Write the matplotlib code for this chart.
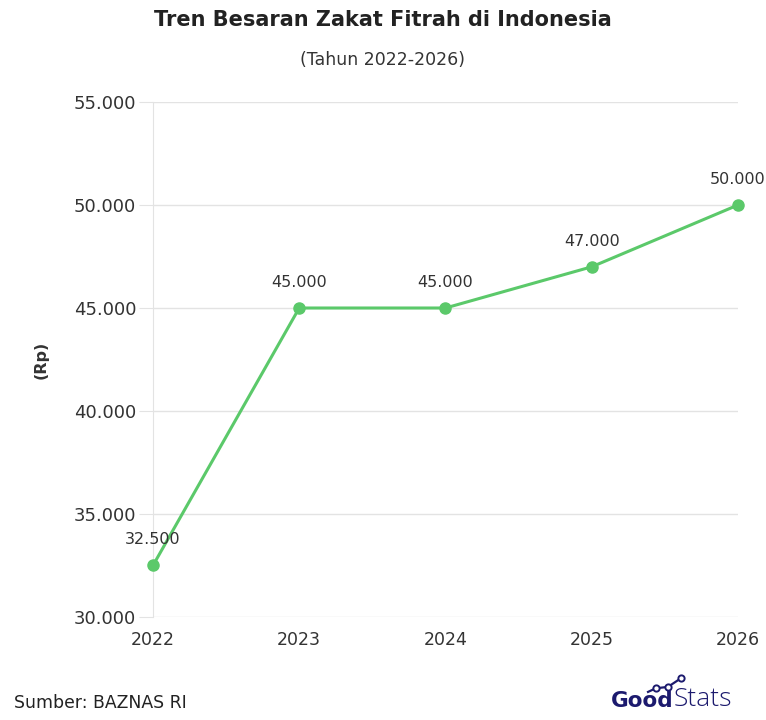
import matplotlib.pyplot as plt
from matplotlib.ticker import FuncFormatter

plt.rcParams['font.family'] = ['DejaVu Sans']

years = [2022, 2023, 2024, 2025, 2026]
zakat = [32500, 45000, 45000, 47000, 50000]
yticks = [30000, 35000, 40000, 45000, 50000, 55000]

def dot_fmt(v, pos=None):
    return f"{int(v):,}".replace(",", ".")

fig = plt.figure(figsize=(7.66, 7.2), dpi=100)
ax = fig.add_axes([0.1997, 0.1431, 0.7637, 0.7152])

green = '#5bc96a'
ax.plot(years, zakat, color=green, lw=2.2, marker='o', ms=8, zorder=3, clip_on=False)
for x, y in zip(years, zakat):
    ax.annotate(dot_fmt(y), (x, y), xytext=(0, 13), textcoords='offset points',
                ha='center', va='bottom', fontsize=11.5, color='#333333',
                annotation_clip=False, zorder=4)

ax.set_xlim(2022, 2026)
ax.set_ylim(30000, 55000)
ax.set_xticks(years)
ax.set_yticks(yticks)
ax.yaxis.set_major_formatter(FuncFormatter(dot_fmt))
ax.grid(axis='y', color='#e3e3e3', lw=1)
ax.tick_params(axis='y', length=10, color='#e3e3e3', labelsize=13, labelcolor='#333333', pad=2)
ax.tick_params(axis='x', length=0, labelsize=12.5, labelcolor='#333333', pad=10)
for s in ['top', 'right', 'bottom']:
    ax.spines[s].set_visible(False)
ax.spines['left'].set_color('#e3e3e3')
ax.set_axisbelow(True)

ax.set_ylabel('(Rp)', fontsize=11.5, fontweight='bold', color='#333333', labelpad=18)

fig.text(0.5, 0.972, 'Tren Besaran Zakat Fitrah di Indonesia', ha='center', va='center',
         fontsize=15, fontweight='bold', color='#222222')
fig.text(0.5, 0.916, '(Tahun 2022-2026)', ha='center', va='center', fontsize=12.5, color='#333333')
fig.text(0.018, 0.023, 'Sumber: BAZNAS RI', ha='left', va='center', fontsize=12.4, color='#222222')

# GoodStats logo
navy = '#1c1a6e'
good = fig.text(0.797, 0.027, 'Good', ha='left', va='center', fontsize=15.5,
                fontweight='bold', color=navy)
fig.canvas.draw()
bb = good.get_window_extent().transformed(fig.transFigure.inverted())
fig.text(bb.x1 + 0.001, 0.028, 'Stats', ha='left', va='center', fontsize=19,
         fontweight='light', color=navy, family='Open Sans')
fig.add_artist(plt.Line2D([0.846, 0.856, 0.872, 0.889], [0.039, 0.044, 0.046, 0.058],
                          transform=fig.transFigure, color=navy, lw=1.6, marker='o', ms=4.5,
                          mfc='white', mec=navy, mew=1.4, markevery=[1, 2, 3]))

fig.savefig('out.png', dpi=100)
